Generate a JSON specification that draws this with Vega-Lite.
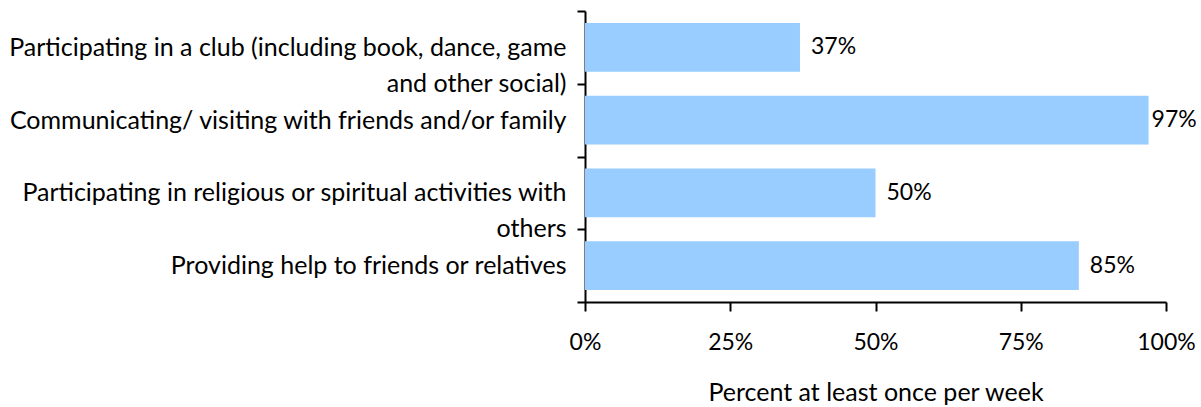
{
  "$schema": "https://vega.github.io/schema/vega-lite/v6.json",
  "autosize": "none",
  "padding": {"left": 585, "top": 11, "right": 35, "bottom": 105},
  "width": 581,
  "height": 291,
  "background": "white",
  "config": {"view": {"stroke": null}, "font": "Lato"},
  "data": {
    "values": [
      {"activity": "Participating in a club (including book, dance, game|and other social)", "value": 0.37},
      {"activity": "Communicating/ visiting with friends and/or family", "value": 0.97},
      {"activity": "Participating in religious or spiritual activities with|others", "value": 0.50},
      {"activity": "Providing help to friends or relatives", "value": 0.85}
    ]
  },
  "encoding": {
    "y": {
      "field": "activity",
      "type": "nominal",
      "sort": null,
      "scale": {"paddingInner": 0, "paddingOuter": 0},
      "axis": {
        "title": null,
        "labelExpr": "split(datum.label, '|')",
        "labelFont": "Lato",
        "labelFontSize": 25,
        "labelColor": "#000000",
        "labelLineHeight": 36,
        "labelPadding": 11,
        "labelLimit": 600,
        "tickBand": "extent",
        "tickSize": 8,
        "tickWidth": 2,
        "tickColor": "#000000",
        "domainColor": "#000000",
        "domainWidth": 2,
        "grid": false,
        "encode": {
          "labels": {
            "align": {"condition": {"test": "indexof(datum.value, '|') >= 0", "value": "center"}, "value": "right"},
            "dx": {"condition": [
              {"test": "indexof(datum.value, 'club') >= 0", "value": -277},
              {"test": "indexof(datum.value, 'religious') >= 0", "value": -271}
            ], "value": 0},
            "dy": {"condition": {"test": "indexof(datum.value, '|') >= 0", "value": -18}, "value": 0}
          }
        }
      }
    },
    "x": {
      "field": "value",
      "type": "quantitative",
      "scale": {"domain": [0, 1], "nice": false},
      "axis": {
        "title": "Percent at least once per week",
        "titleFont": "Lato",
        "titleFontSize": 25,
        "titleFontWeight": "normal",
        "titleColor": "#000000",
        "titlePadding": 26,
        "format": ".0%",
        "values": [0, 0.25, 0.5, 0.75, 1],
        "labelFont": "Lato",
        "labelFontSize": 23,
        "labelColor": "#000000",
        "labelPadding": 20,
        "labelFlush": false,
        "tickSize": 9,
        "tickWidth": 2,
        "tickColor": "#000000",
        "domainColor": "#000000",
        "domainWidth": 2,
        "grid": false
      }
    }
  },
  "layer": [
    {
      "mark": {"type": "bar", "color": "#99CCFF", "height": {"band": 0.67}}
    },
    {
      "transform": [{"filter": "datum.value < 0.95"}],
      "mark": {"type": "text", "align": "left", "baseline": "middle", "dx": 11, "font": "Lato", "fontSize": 23, "color": "#000000"},
      "encoding": {"text": {"field": "value", "type": "quantitative", "format": ".0%"}}
    },
    {
      "transform": [{"filter": "datum.value >= 0.95"}],
      "mark": {"type": "text", "align": "left", "baseline": "middle", "dx": 3, "font": "Lato", "fontSize": 23, "color": "#000000"},
      "encoding": {"text": {"field": "value", "type": "quantitative", "format": ".0%"}}
    }
  ]
}
